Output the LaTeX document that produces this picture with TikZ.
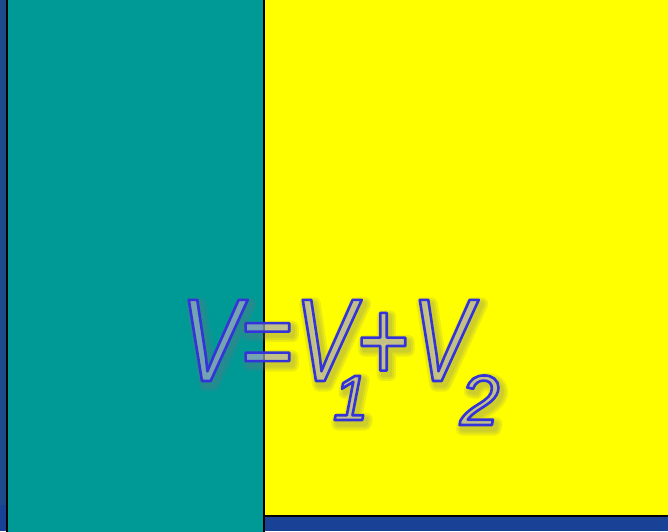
\documentclass[tikz,border=0pt]{standalone}
\usepackage{fontspec}
\newfontfamily\eqfont{Liberation Sans}[FakeStretch=0.76]
\newfontfamily\digfont{Liberation Sans}
\definecolor{bgblue}{HTML}{1C4A8C}
\definecolor{tealc}{HTML}{009A96}
\definecolor{yelc}{RGB}{255,255,0}
\definecolor{fillc}{RGB}{185,182,210}
\definecolor{glowc}{RGB}{110,110,120}
\newcommand\outl[1]{\pgfsetstrokeopacity{1}\special{pdf:literal direct 2 Tr 0.2 0.2 0.85 RG 2.6 w 1 j}#1\special{pdf:literal direct 0 Tr}}
\newcommand\glowone[2]{\special{pdf:literal direct 1 Tr 0.45 0.45 0.5 RG #1 w 1 j}#2\special{pdf:literal direct 0 Tr}}
\tikzset{
  part/.style={anchor=base west, inner sep=0pt, outer sep=0pt},
  mainpart/.style={part, text=fillc, text opacity=0.55},
  glowpart/.style={part, text=glowc, text opacity=0.15},
  panel/.style={draw=black, line width=2pt}
}
\begin{document}
\begin{tikzpicture}[x=1pt,y=1pt]
\useasboundingbox (0,0) rectangle (668,-531);
\fill[bgblue] (0,0) rectangle (668,-531);
\fill[blue!30!bgblue, opacity=0.35] (0,-531) rectangle (668,-505);
\node[panel, fill=tealc, minimum width=257pt, minimum height=534pt, anchor=north west, inner sep=0pt] (left) at (6,2) {};
\node[panel, fill=yelc, minimum width=410pt, minimum height=517pt, anchor=north west, inner sep=0pt] (right) at (263,2) {};
\def\parts{v/181/381/118/\eqfont/V, eq/240/381/118/\eqfont/=, va/295/381/118/\eqfont/V, one/333/420/64/\digfont/1, plus/356/381/118/\eqfont/+, vb/412/381/118/\eqfont/V, two/460/425/71/\digfont/2}
\foreach \n/\x/\y/\s/\f/\t in \parts {
  \node[glowpart] (g\n) at ({\x+3},{-\y-4}) {\f\itshape\fontsize{\s}{\s}\selectfont
    \pgfsetstrokeopacity{0.13}\rlap{\glowone{13}{\t}}\rlap{\glowone{9}{\t}}\glowone{5}{\t}};
}
\foreach \n/\x/\y/\s/\f/\t in \parts {
  \node[mainpart] (\n) at (\x,-\y) {\f\itshape\fontsize{\s}{\s}\selectfont\outl{\t}};
}
\end{tikzpicture}
\end{document}
